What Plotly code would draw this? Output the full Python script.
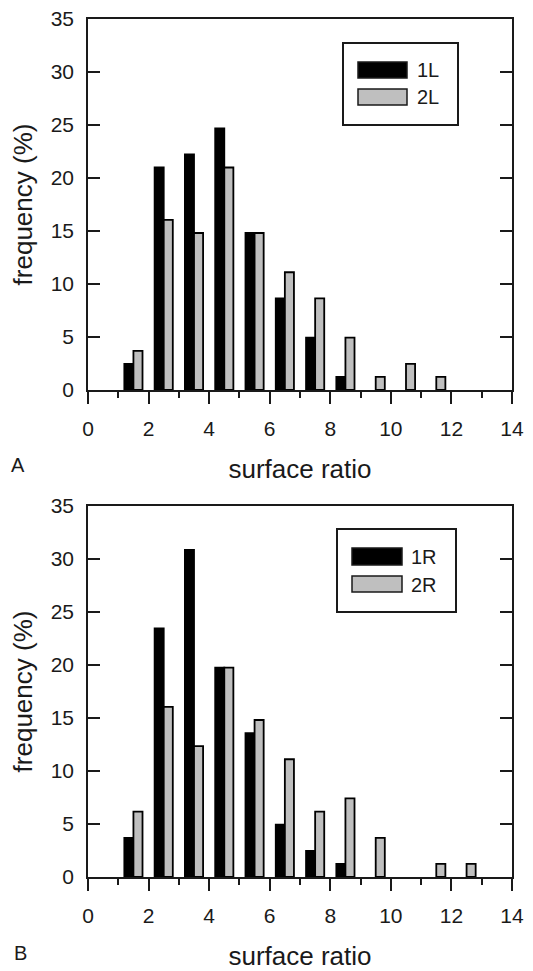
import plotly.graph_objects as go

# bin centres (surface ratio) and frequencies (%)
bins = [1.5, 2.5, 3.5, 4.5, 5.5, 6.5, 7.5, 8.5, 9.5, 10.5, 11.5, 12.5]
freq_1L = [2.47, 20.99, 22.22, 24.69, 14.81, 8.64, 4.94, 1.23, 0, 0, 0, 0]
freq_2L = [3.70, 16.05, 14.81, 20.99, 14.81, 11.11, 8.64, 4.94, 1.23, 2.47, 1.23, 0]
freq_1R = [3.70, 23.46, 30.86, 19.75, 13.58, 4.94, 2.47, 1.23, 0, 0, 0, 0]
freq_2R = [6.17, 16.05, 12.35, 19.75, 14.81, 11.11, 6.17, 7.41, 3.70, 0, 1.23, 1.23]

x_ticks = [0, 2, 4, 6, 8, 10, 12, 14]
y_ticks = [0, 5, 10, 15, 20, 25, 30, 35]

# the page body has an 8px margin, so the figure is drawn 8px in and down
OFF = 8
W, H = 533 - OFF, 971 - OFF
L, R, T, B = 88 - OFF, 21, 19 - OFF, 94
FONT = "Liberation Sans, Arial, sans-serif"
INK = "#1a1a1a"
GREY = "#bfbfbf"


def px(xp, yp):
    # window pixel position -> paper coords
    xp, yp = xp - OFF, yp - OFF
    return (xp - L) / (W - L - R), (H - B - yp) / (H - T - B)


fig = go.Figure()

panels = [
    ("x", "y", freq_1L, freq_2L, "1L", "2L"),
    ("x2", "y2", freq_1R, freq_2R, "1R", "2R"),
]
for xa, ya, s1, s2, n1, n2 in panels:
    fig.add_trace(go.Bar(x=bins, y=s1, name=n1, width=0.3, offset=-0.3,
                         marker=dict(color="black",
                                     line=dict(color="black", width=[1.8 if v > 0 else 0 for v in s1])),
                         xaxis=xa, yaxis=ya, showlegend=False))
    fig.add_trace(go.Bar(x=bins, y=s2, name=n2, width=0.3, offset=0,
                         marker=dict(color=GREY,
                                     line=dict(color="black", width=[1.8 if v > 0 else 0 for v in s2])),
                         xaxis=xa, yaxis=ya, showlegend=False))

_, a_bot = px(0, 390)
_, b_top = px(0, 506)

xcommon = dict(range=[0, 14], tickvals=x_ticks, ticks="outside", ticklen=12, tickwidth=1.5,
               tickcolor=INK, showline=True, linecolor=INK, linewidth=1.5, mirror=True,
               showgrid=False, zeroline=False, ticklabelstandoff=7, automargin=False,
               ticklabeloverflow="allow",
               minor=dict(dtick=1, tick0=0, ticks="outside", ticklen=6, tickwidth=1.5, tickcolor=INK),
               tickfont=dict(size=21, color=INK, family=FONT),
               title=dict(text="surface ratio", font=dict(size=26, color=INK, family=FONT), standoff=21))
ycommon = dict(range=[0, 35], tickvals=y_ticks, ticks="inside", ticklen=12, tickwidth=1.5,
               tickcolor=INK, showline=True, linecolor=INK, linewidth=1.5, mirror="ticks",
               showgrid=False, zeroline=False, ticklabelstandoff=8, automargin=False,
               ticklabeloverflow="allow",
               tickfont=dict(size=21, color=INK, family=FONT),
               title=dict(text="frequency (%)", font=dict(size=26, color=INK, family=FONT), standoff=12))
topcommon = dict(range=[0, 14], side="top", ticks="inside", ticklen=7, tickwidth=1.5, tickcolor=INK,
                 dtick=1, tick0=0, showticklabels=False, showgrid=False, zeroline=False, showline=False)

fig.update_layout(
    width=W, height=H,
    margin=dict(l=L, r=R, t=T, b=B),
    paper_bgcolor="white", plot_bgcolor="white",
    barmode="overlay",
    font=dict(family=FONT, color=INK),
    xaxis=dict(xcommon, anchor="y", domain=[0, 1]),
    yaxis=dict(ycommon, anchor="x", domain=[a_bot, 1]),
    xaxis2=dict(xcommon, anchor="y2", domain=[0, 1]),
    yaxis2=dict(ycommon, anchor="x2", domain=[0, b_top]),
    xaxis3=dict(topcommon, overlaying="x", anchor="y"),
    xaxis4=dict(topcommon, overlaying="x2", anchor="y2"),
)

# hand-drawn legends (large swatches as in the original)
shapes, annos = [], []
legends = [
    # box, swatch1, swatch2, label x, label ys, names
    ((343, 43, 458, 125), (358, 62, 407, 78), (358, 89, 407, 105), 415, (70, 97), ("1L", "2L")),
    ((337, 529, 456, 612), (352, 548, 402, 565), (352, 576, 402, 592), 409, (557, 585), ("1R", "2R")),
]
for box, sw1, sw2, lx, lys, names in legends:
    x0, y0 = px(box[0], box[1]); x1, y1 = px(box[2], box[3])
    shapes.append(dict(type="rect", xref="paper", yref="paper", x0=x0, y0=y0, x1=x1, y1=y1,
                       line=dict(color=INK, width=2), fillcolor="white", layer="above"))
    for sw, col in ((sw1, "black"), (sw2, GREY)):
        x0, y0 = px(sw[0], sw[1]); x1, y1 = px(sw[2], sw[3])
        shapes.append(dict(type="rect", xref="paper", yref="paper", x0=x0, y0=y0, x1=x1, y1=y1,
                           line=dict(color=INK, width=1.5), fillcolor=col, layer="above"))
    for ly, nm in zip(lys, names):
        ax, ay = px(lx, ly)
        annos.append(dict(text=nm, x=ax, y=ay, xref="paper", yref="paper", xanchor="left",
                          yanchor="middle", showarrow=False, font=dict(size=20, color=INK, family=FONT)))

for letter, lx, ly in (("A", 18, 465), ("B", 20, 953)):
    ax, ay = px(lx, ly)
    annos.append(dict(text=letter, x=ax, y=ay, xref="paper", yref="paper", xanchor="center",
                      yanchor="middle", showarrow=False, font=dict(size=20, color=INK, family=FONT)))

fig.update_layout(shapes=shapes, annotations=annos)

fig.write_html("out.html")
